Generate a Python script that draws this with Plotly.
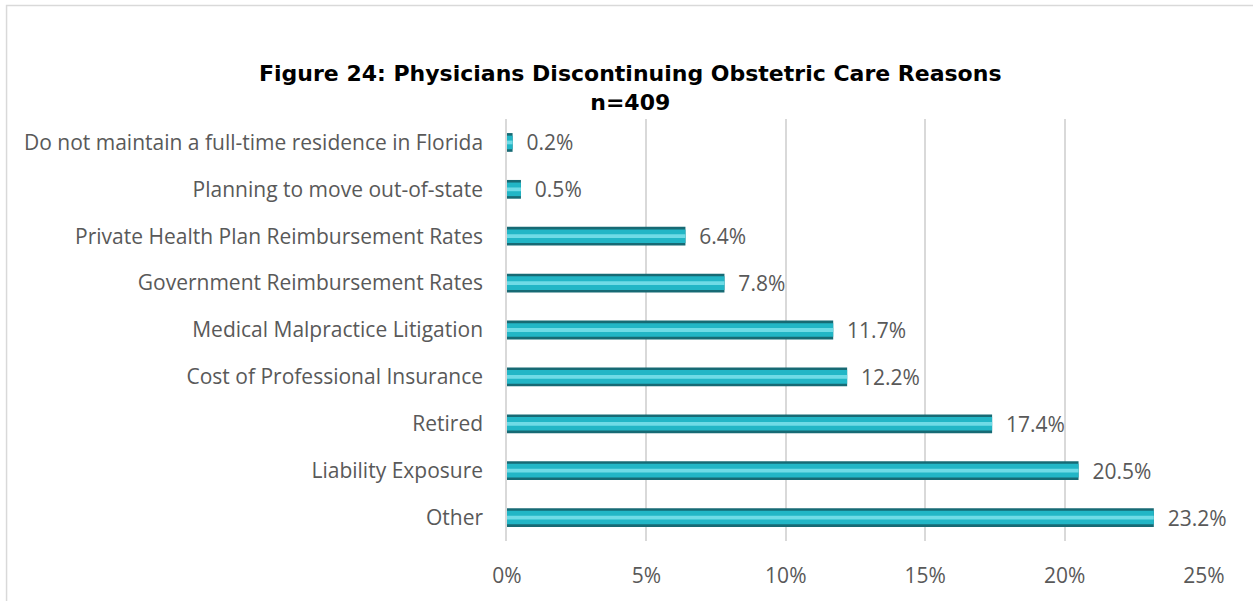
import plotly.graph_objects as go

reasons = [
    "Do not maintain a full-time residence in Florida",
    "Planning to move out-of-state",
    "Private Health Plan Reimbursement Rates",
    "Government Reimbursement Rates",
    "Medical Malpractice Litigation",
    "Cost of Professional Insurance",
    "Retired",
    "Liability Exposure",
    "Other",
]
pct = [0.2, 0.5, 6.4, 7.8, 11.7, 12.2, 17.4, 20.5, 23.2]
x_ticks = [0, 5, 10, 15, 20, 25]
x_labels = ["0%", "5%", "10%", "15%", "20%", "25%"]

font_txt = "Open Sans, Calibri, sans-serif"
grey = "#595959"
fsize = 21

fig = go.Figure()

# bevelled look: dark base, main teal, light highlight stacked on the same values
fig.add_trace(go.Bar(
    y=reasons, x=pct, orientation="h", width=0.40,
    marker=dict(color="#176a74", line=dict(width=0)),
    text=["  %.1f%%" % v for v in pct], textposition="outside",
    constraintext="none",
    textfont=dict(family=font_txt, size=fsize, color=grey),
    cliponaxis=False, hoverinfo="skip",
))
fig.add_trace(go.Bar(
    y=reasons, x=pct, orientation="h", width=0.29,
    marker=dict(color="#22b6c6", line=dict(width=0)), hoverinfo="skip",
))
fig.add_trace(go.Bar(
    y=reasons, x=pct, orientation="h", width=0.08,
    marker=dict(color="#6fdbe6", line=dict(width=0)), hoverinfo="skip",
))

fig.update_layout(
    width=1253, height=601,
    barmode="overlay", showlegend=False,
    paper_bgcolor="white", plot_bgcolor="white",
    margin=dict(l=507, r=49, t=119, b=57),
    title=dict(
        text="<b>Figure 24: Physicians Discontinuing Obstetric Care Reasons<br>n=409</b>",
        x=0.503, xref="container", xanchor="center",
        y=0.865, yref="container", yanchor="middle",
        font=dict(family="DejaVu Sans, Arial, sans-serif", size=22, color="black"),
    ),
    xaxis=dict(
        range=[0, 25], tickvals=x_ticks, ticktext=x_labels,
        showgrid=True, gridcolor="#d9d9d9", gridwidth=1.5,
        zeroline=False, showline=False, ticks="",
        tickfont=dict(family=font_txt, size=fsize, color=grey),
        ticklabelstandoff=20,
    ),
    yaxis=dict(
        autorange="reversed", showgrid=False, zeroline=False,
        showline=True, linecolor="#d9d9d9", linewidth=1.5, ticks="",
        tickfont=dict(family=font_txt, size=fsize, color=grey),
        ticklabelstandoff=18,
    ),
    shapes=[dict(
        type="rect", xref="paper", yref="paper",
        x0=-0.718, x1=1.1, y0=-0.2, y1=1.269,
        line=dict(color="#d9d9d9", width=1.5), layer="below",
    )],
)

fig.write_html("out.html", config={"displayModeBar": False},
               post_script="document.body.style.margin='0';")
